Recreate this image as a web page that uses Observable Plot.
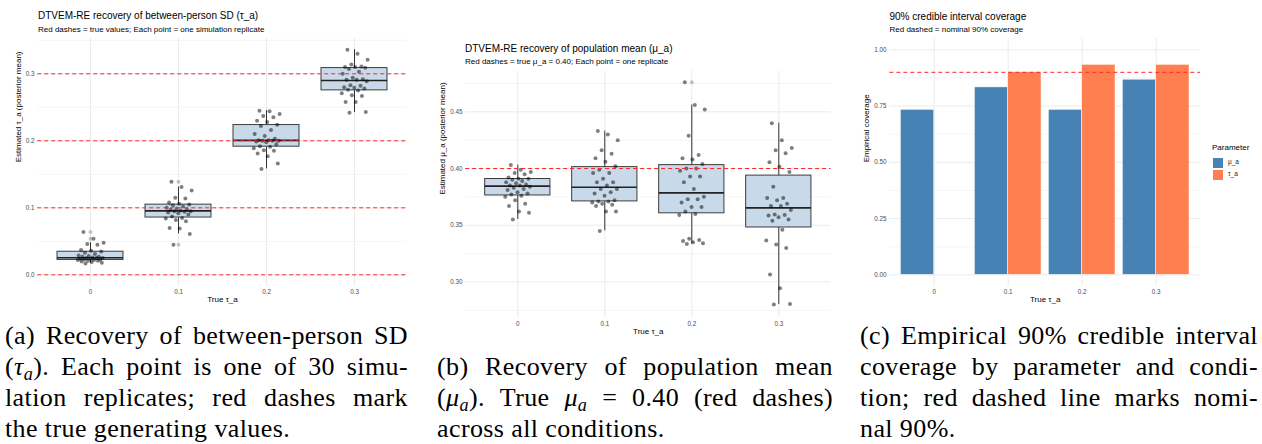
<!DOCTYPE html>
<html><head><meta charset="utf-8">
<script src="https://cdn.jsdelivr.net/npm/d3@7"></script>
<script src="https://cdn.jsdelivr.net/npm/@observablehq/plot@0.6"></script>
<style>
body{margin:0;background:#fff;}
#root{position:relative;width:1262px;height:444px;overflow:hidden;font-family:"Liberation Sans",Arial,sans-serif;background:#fff;}
.abs{position:absolute;white-space:nowrap;color:#000;}
.t{font-size:10px;line-height:10px;}
.st{font-size:8px;line-height:8px;}
.cap{position:absolute;font-family:"Liberation Serif","Times New Roman",serif;font-size:26px;line-height:31px;color:#000;letter-spacing:0.4px;}
.cap div{white-space:nowrap;text-align:justify;text-align-last:justify;}
.cap div.last{text-align-last:left;}
.cap sub{font-size:0.7em;vertical-align:-0.3em;line-height:0;font-style:italic;}
.leg{position:absolute;font-family:"Liberation Sans",Arial,sans-serif;color:#000;white-space:nowrap;}
</style></head>
<body><div id="root">
<div class="abs t" style="left:38px;top:11px">DTVEM-RE recovery of between-person SD (τ_a)</div>
<div class="abs st" style="left:38px;top:26px">Red dashes = true values; Each point = one simulation replicate</div>
<div class="abs t" style="left:465px;top:44.3px">DTVEM-RE recovery of population mean (μ_a)</div>
<div class="abs st" style="left:465px;top:58.3px">Red dashes = true μ_a = 0.40; Each point = one replicate</div>
<div class="abs t" style="left:889.5px;top:11.7px">90% credible interval coverage</div>
<div class="abs st" style="left:889.5px;top:26px">Red dashed = nominal 90% coverage</div>
<div id="pa" style="position:absolute;left:0;top:36px"></div>
<div id="pb" style="position:absolute;left:420px;top:66px"></div>
<div id="pc" style="position:absolute;left:840px;top:36px"></div>
<div id="legend"></div>
<div class="cap" style="left:5px;top:320px;width:403px">
<div>(a) Recovery of between-person SD</div>
<div>(<i>τ</i><sub>a</sub>). Each point is one of 30 simu-</div>
<div>lation replicates; red dashes mark</div>
<div class="last">the true generating values.</div>
</div>
<div class="cap" style="left:437px;top:351px;width:396px">
<div>(b) Recovery of population mean</div>
<div>(<i>μ</i><sub>a</sub>). True <i>μ</i><sub>a</sub> = 0.40 (red dashes)</div>
<div class="last">across all conditions.</div>
</div>
<div class="cap" style="left:860px;top:320px;width:398px">
<div>(c) Empirical 90% credible interval</div>
<div>coverage by parameter and condi-</div>
<div>tion; red dashed line marks nomi-</div>
<div class="last">nal 90%.</div>
</div>
</div>
<script>
// ---- data ----
const tauLevels = [0, 0.1, 0.2, 0.3];
const xTicks = [0, 0.1, 0.2, 0.3];

// panel (a): estimated tau_a, 30 replicates per condition
const tauEst0 = [0.017,0.018,0.019,0.020,0.021,0.021,0.022,0.022,0.023,0.023,0.024,0.024,0.025,0.025,0.025,0.026,0.027,0.027,0.028,0.029,0.031,0.033,0.035,0.036,0.037,0.045,0.046,0.048,0.054,0.064];
const tauEst1 = [0.045,0.061,0.069,0.070,0.080,0.082,0.084,0.085,0.087,0.090,0.092,0.093,0.094,0.095,0.095,0.096,0.097,0.098,0.099,0.100,0.102,0.104,0.105,0.106,0.108,0.114,0.115,0.126,0.131,0.139];
const tauEst2 = [0.158,0.166,0.177,0.181,0.185,0.186,0.189,0.191,0.192,0.195,0.198,0.199,0.200,0.200,0.200,0.201,0.201,0.203,0.207,0.210,0.216,0.222,0.224,0.228,0.230,0.235,0.237,0.240,0.244,0.245];
const tauEst3 = [0.242,0.243,0.258,0.258,0.267,0.268,0.271,0.275,0.276,0.278,0.279,0.280,0.282,0.283,0.289,0.291,0.291,0.292,0.294,0.300,0.303,0.307,0.309,0.310,0.310,0.311,0.314,0.321,0.330,0.336];
const trueTau = [0, 0.1, 0.2, 0.3];

// panel (b): estimated mu_a
const muEst0 = [0.355,0.361,0.362,0.367,0.369,0.372,0.375,0.376,0.377,0.378,0.379,0.381,0.382,0.383,0.384,0.385,0.385,0.386,0.387,0.388,0.389,0.390,0.391,0.391,0.392,0.395,0.396,0.397,0.399,0.403];
const muEst1 = [0.345,0.362,0.362,0.367,0.368,0.369,0.370,0.371,0.371,0.372,0.376,0.378,0.379,0.382,0.382,0.385,0.388,0.388,0.391,0.396,0.396,0.399,0.402,0.406,0.409,0.413,0.416,0.425,0.430,0.433];
const muEst2 = [0.3335,0.334,0.335,0.336,0.337,0.338,0.359,0.360,0.362,0.366,0.366,0.370,0.373,0.373,0.375,0.382,0.388,0.393,0.393,0.398,0.400,0.400,0.404,0.408,0.409,0.412,0.429,0.452,0.456,0.476];
const muEst3 = [0.2800,0.2805,0.2945,0.3065,0.330,0.333,0.3365,0.346,0.354,0.355,0.357,0.3585,0.359,0.3595,0.3635,0.367,0.367,0.369,0.372,0.374,0.374,0.384,0.397,0.4015,0.4055,0.4135,0.416,0.418,0.425,0.440];
const trueMu = [0.40];

// panel (c): coverage
const params = ["μ_a", "τ_a"];
const paramColors = ["#4682b4", "#ff7f50"];
const covMu = [0.733, 0.833, 0.733, 0.867];
const covTauA = [null, 0.900, 0.933, 0.933];
const nominal = [0.9];

// tick values
const yTicksA = [0, 0.1, 0.2, 0.3], yMinorA = [0.05, 0.15, 0.25, 0.35];
const yTicksB = [0.30, 0.35, 0.40, 0.45], yMinorB = [0.275, 0.325, 0.375, 0.425, 0.475];
const yTicksC = [0, 0.25, 0.5, 0.75, 1], yMinorC = [0.125, 0.375, 0.625, 0.875];

// ---- helpers ----
const FONT = '"Liberation Sans", Arial, sans-serif';
const style = {fontFamily: FONT, fontSize: "6.3px", color: "#000", background: "none", overflow: "visible"};
const hw = 0.0375; // half box width in x units
const jit = i => (((i * 0.6180339887 + 0.31) % 1) - 0.5) * 0.03;

function boxStats(levels, groups) {
  return levels.map((t, k) => {
    const s = groups[k].slice().sort(d3.ascending);
    const q1 = d3.quantile(s, 0.25), med = d3.quantile(s, 0.5), q3 = d3.quantile(s, 0.75);
    const iqr = q3 - q1, lf = q1 - 1.5 * iqr, uf = q3 + 1.5 * iqr;
    const inside = s.filter(v => v >= lf && v <= uf);
    return {tau: t, q1, med, q3, lo: d3.min(inside), hi: d3.max(inside),
            out: s.filter(v => v < lf || v > uf)};
  });
}
function points(levels, groups) {
  return levels.flatMap((t, k) => groups[k].map((v, i) => ({tau: t, v, i})));
}
function grid(ticksMaj, ticksMin) {
  return [
    Plot.gridY({ticks: ticksMin, stroke: "#f3f3f3", strokeOpacity: 1, strokeWidth: 0.8}),
    Plot.gridY({ticks: ticksMaj, stroke: "#ebebeb", strokeOpacity: 1, strokeWidth: 1}),
    Plot.gridX({ticks: xTicks, stroke: "#ebebeb", strokeOpacity: 1, strokeWidth: 1})
  ];
}
function axes(yTicks, yFmt, xTitle, yTitle, yTitleDx, xTitleDy) {
  return [
    Plot.axisX({ticks: xTicks, tickFormat: d => String(d), tickSize: 0, tickPadding: 3, fill: "#4d4d4d", label: null}),
    Plot.axisY({ticks: yTicks, tickFormat: d3.format(yFmt), tickSize: 0, tickPadding: 3.2, fill: "#4d4d4d", label: null}),
    Plot.text([xTitle], {text: d => d, frameAnchor: "bottom", dy: xTitleDy, fontSize: 8, fill: "#000"}),
    Plot.text([yTitle], {text: d => d, frameAnchor: "left", dx: yTitleDx, rotate: -90, fontSize: 8, fill: "#000"})
  ];
}
function boxMarks(stats, pts) {
  const outs = stats.flatMap(s => s.out.map(v => ({tau: s.tau, v})));
  return [
    Plot.ruleX(stats, {x: "tau", y1: "lo", y2: "hi", stroke: "#333", strokeWidth: 1}),
    Plot.rectY(stats, {x1: d => d.tau - hw, x2: d => d.tau + hw, y1: "q1", y2: "q3", fill: "#c8dae9", stroke: "#3d3d3d", strokeWidth: 1}),
    Plot.ruleY(stats, {x1: d => d.tau - hw, x2: d => d.tau + hw, y: "med", stroke: "#222", strokeWidth: 1.7}),
    Plot.dot(outs, {x: "tau", y: "v", r: 2, fill: "#000", fillOpacity: 0.22, stroke: "none"}),
    Plot.dot(pts, {x: d => d.tau + jit(d.i), y: "v", r: 2, fill: "#000", fillOpacity: 0.5, stroke: "none"})
  ];
}

// ---- panel (a) ----
const groupsA = [tauEst0, tauEst1, tauEst2, tauEst3];
const plotA = Plot.plot({
  width: 410, height: 274, marginLeft: 37.2, marginRight: 3.2, marginTop: 1.9, marginBottom: 24.4,
  x: {domain: [-0.06, 0.36]}, y: {domain: [-0.0168, 0.3528]}, style,
  marks: [
    ...grid(yTicksA, yMinorA),
    ...boxMarks(boxStats(tauLevels, groupsA), points(tauLevels, groupsA)),
    Plot.ruleY(trueTau, {stroke: "#ff2626", strokeWidth: 1, strokeDasharray: "4,3"}),
    ...axes(yTicksA, ".1f", "True τ_a", "Estimated τ_a (posterior mean)", -19, 16)
  ]
});
document.getElementById("pa").append(plotA);

// ---- panel (b) ----
const groupsB = [muEst0, muEst1, muEst2, muEst3];
const plotB = Plot.plot({
  width: 415, height: 274, marginLeft: 45.1, marginRight: 4.5, marginTop: 4.6, marginBottom: 22.4,
  x: {domain: [-0.06, 0.36]}, y: {domain: [0.2681, 0.4859]}, style,
  marks: [
    ...grid(yTicksB, yMinorB),
    ...boxMarks(boxStats(tauLevels, groupsB), points(tauLevels, groupsB)),
    Plot.ruleY(trueMu, {stroke: "#ff2626", strokeWidth: 1, strokeDasharray: "4,3"}),
    ...axes(yTicksB, ".2f", "True τ_a", "Estimated μ_a (posterior mean)", -23.4, 15.4)
  ]
});
document.getElementById("pb").append(plotB);

// ---- panel (c) ----
const cov = tauLevels.flatMap((t, k) => [
  {tau: t, param: params[0], value: covMu[k]},
  {tau: t, param: params[1], value: covTauA[k]}
]).filter(d => d.value != null);
const bw = 0.045;
const plotC = Plot.plot({
  width: 362, height: 274, marginLeft: 49.3, marginRight: 1.9, marginTop: 2.05, marginBottom: 24.4,
  x: {domain: [-0.06, 0.36]}, y: {domain: [-0.05, 1.05]}, style,
  color: {domain: params, range: paramColors},
  marks: [
    ...grid(yTicksC, yMinorC),
    Plot.rectY(cov, {
      x1: d => d.tau + (d.param === params[0] ? -bw : 0),
      x2: d => d.tau + (d.param === params[0] ? 0 : bw),
      y1: 0, y2: "value", fill: "param", stroke: "#fff", strokeWidth: 0.6, strokeOpacity: 0.8
    }),
    Plot.ruleY(nominal, {stroke: "#ff2626", strokeWidth: 1, strokeDasharray: "4,3"}),
    ...axes(yTicksC, ".2f", "True τ_a", "Empirical coverage", -23.3, 16)
  ]
});
document.getElementById("pc").append(plotC);

// ---- legend (c) ----
const leg = document.getElementById("legend");
let html = `<div class="leg" style="left:1212px;top:144px;font-size:8px;line-height:8px">Parameter</div>`;
params.forEach((p, i) => {
  const top = 156.5 + i * 12;
  html += `<div class="leg" style="left:1212px;top:${top}px;width:10px;height:10px;background:${paramColors[i]};border:0.5px solid #fff"></div>`;
  html += `<div class="leg" style="left:1228px;top:${top + 2}px;font-size:6.5px;line-height:6.5px;color:#1a1a1a">${p}</div>`;
});
leg.innerHTML = html;
</script>
</body></html>
